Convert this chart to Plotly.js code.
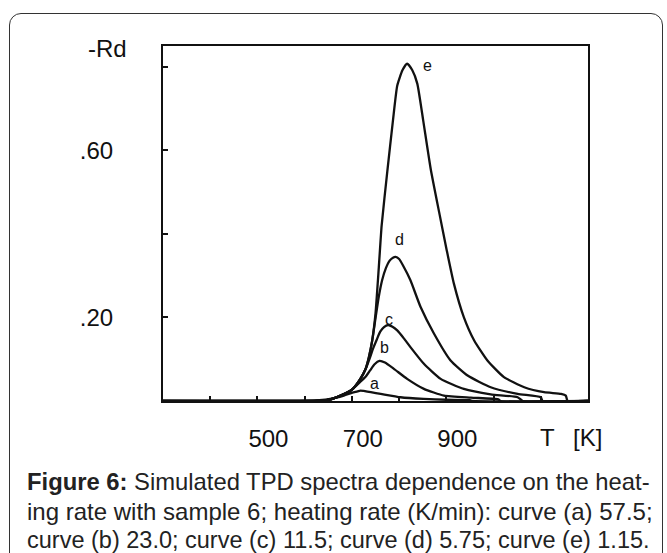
<!DOCTYPE html>
<html>
<head>
<meta charset="utf-8">
<script src="https://cdn.plot.ly/plotly-3.0.1.min.js"></script>
<style>
  html, body { margin: 0; padding: 0; background: #fff; }
  #wrap { position: relative; width: 667px; height: 553px; overflow: hidden; }
  #chart { position: absolute; left: 0; top: 0; width: 667px; height: 553px; }
  #frame { position: absolute; left: 9px; top: 13px; width: 652px; height: 600px;
           border: 1.5px solid #333; border-radius: 12px 12px 0 0; pointer-events: none; z-index: 5; }
</style>
</head>
<body>
<div id="wrap">
  <div id="chart"></div>
  <div id="frame"></div>
</div>
<script>
// ---- data (T in K, -Rd) ----
const curveNames = ['a', 'b', 'c', 'd', 'e'];

const tA = [300, 600, 654, 683, 701, 712, 718, 725, 740, 761, 803, 852, 900, 950, 955, 1200];
const vA = [0, 0, 0.005, 0.013, 0.020, 0.023, 0.025, 0.024, 0.021, 0.017, 0.009, 0.005, 0.003, 0.002, 0, 0];

const tB = [300, 600, 647, 676, 700, 718, 729, 739, 748, 758.5, 770, 789, 817, 852.5, 895, 952, 1010, 1015, 1200];
const vB = [0, 0, 0.002, 0.013, 0.027, 0.046, 0.058, 0.074, 0.088, 0.096, 0.092, 0.077, 0.053, 0.029, 0.013, 0.008, 0.004, 0, 0];

const tC = [300, 600, 647, 676, 700, 718, 729, 737, 745, 753, 760, 768, 776.5, 786, 796, 810, 824, 852.5, 888, 937, 994, 1051, 1062, 1200];
const vC = [0, 0, 0.002, 0.013, 0.027, 0.053, 0.076, 0.100, 0.126, 0.148, 0.166, 0.177, 0.182, 0.178, 0.169, 0.150, 0.129, 0.089, 0.053, 0.029, 0.016, 0.009, 0, 0];

const tD = [300, 600, 647, 676, 700, 718, 729, 736, 743, 750, 757, 764, 772, 780, 787, 792.5, 800, 808, 824, 845.5, 874, 909, 945, 994, 1051, 1100, 1104, 1200];
const vD = [0, 0, 0.002, 0.013, 0.027, 0.053, 0.077, 0.105, 0.144, 0.198, 0.250, 0.289, 0.318, 0.336, 0.343, 0.345, 0.340, 0.325, 0.289, 0.225, 0.161, 0.097, 0.061, 0.033, 0.017, 0.009, 0, 0];

const tE = [300, 600, 647, 676, 700, 718, 729, 736, 743, 750, 757, 763, 775, 787, 796, 807, 817, 828, 838.5, 851, 867, 886, 901, 916, 937, 959, 987, 1022, 1065, 1107, 1143, 1153, 1157, 1200];
const vE = [0, 0, 0.002, 0.013, 0.027, 0.053, 0.077, 0.105, 0.145, 0.209, 0.320, 0.420, 0.550, 0.672, 0.755, 0.792, 0.808, 0.792, 0.760, 0.672, 0.555, 0.445, 0.360, 0.281, 0.201, 0.145, 0.097, 0.057, 0.033, 0.021, 0.017, 0.013, 0, 0];

const xTickVals = [500, 700, 900];
const xTickText = ['500', '700', '900'];
const yTickVals = [0.2, 0.6];
const yTickText = ['.20', '.60'];

const captionLines = [
  '<b>Figure 6:</b> Simulated TPD spectra dependence on the heat-',
  'ing rate with sample 6; heating rate (K/min): curve (a) 57.5;',
  'curve (b) 23.0; curve (c) 11.5; curve (d) 5.75; curve (e) 1.15.'
];

// ---- figure ----
const FONT = 'Liberation Sans, Arial, Helvetica, sans-serif';
const INK = '#111';
const series = [[tA, vA], [tB, vB], [tC, vC], [tD, vD], [tE, vE]];

const traces = series.map((s, i) => ({
  x: s[0], y: s[1], type: 'scatter', mode: 'lines', name: curveNames[i],
  line: { color: INK, width: 2.3, shape: 'spline', smoothing: 0.5 },
  hoverinfo: 'skip'
}));

const labelPos = { a: [748, 0.043], b: [768, 0.127], c: [778, 0.194], d: [801, 0.387], e: [860, 0.804] };

const annotations = curveNames.map(n => ({
  x: labelPos[n][0], y: labelPos[n][1], xref: 'x', yref: 'y', text: n,
  showarrow: false, font: { family: FONT, size: 16, color: INK }, xanchor: 'center', yanchor: 'middle'
}));

annotations.push({ x: -0.13, y: 0.994, xref: 'paper', yref: 'paper', text: '-Rd', showarrow: false,
  font: { family: FONT, size: 24, color: INK }, xanchor: 'center', yanchor: 'middle' });
annotations.push({ x: 0.905, y: -0.104, xref: 'paper', yref: 'paper', text: 'T', showarrow: false,
  font: { family: FONT, size: 24, color: INK }, xanchor: 'center', yanchor: 'middle' });
annotations.push({ x: 0.9993, y: -0.104, xref: 'paper', yref: 'paper', text: '[K]', showarrow: false,
  font: { family: FONT, size: 24, color: INK }, xanchor: 'center', yanchor: 'middle' });

const captionY = [-0.2268, -0.3113, -0.3907];
const captionSize = [23.8, 24, 23.5];
captionLines.forEach((t, i) => annotations.push({
  x: -0.3255, y: captionY[i], xref: 'paper', yref: 'paper', text: t, showarrow: false,
  font: { family: FONT, size: captionSize[i], color: '#222' }, xanchor: 'left', yanchor: 'middle', align: 'left'
}));

const layout = {
  width: 667, height: 553,
  margin: { l: 163, r: 79, t: 46, b: 152 },
  paper_bgcolor: '#fff', plot_bgcolor: '#fff',
  showlegend: false,
  font: { family: FONT, color: INK },
  xaxis: {
    range: [300, 1200], showline: true, mirror: true, linecolor: INK, linewidth: 2,
    ticks: 'inside', ticklen: 5, tickwidth: 2, tickcolor: INK,
    tickmode: 'array', tickvals: xTickVals, ticktext: xTickText,
    ticklabelshift: 11, ticklabelstandoff: 15,
    tickfont: { family: FONT, size: 24, color: INK },
    showgrid: false, zeroline: false, fixedrange: true,
    minor: { ticks: 'inside', ticklen: 5, tickwidth: 2, tickcolor: INK, tickmode: 'linear', tick0: 300, dtick: 100, showgrid: false }
  },
  yaxis: {
    range: [0, 0.85], showline: true, mirror: true, linecolor: INK, linewidth: 2,
    ticks: 'inside', ticklen: 5, tickwidth: 2, tickcolor: INK,
    tickmode: 'array', tickvals: yTickVals, ticktext: yTickText,
    ticklabelstandoff: 43,
    tickfont: { family: FONT, size: 24, color: INK },
    showgrid: false, zeroline: false, fixedrange: true,
    minor: { ticks: 'inside', ticklen: 5, tickwidth: 2, tickcolor: INK, tickmode: 'linear', tick0: 0, dtick: 0.2, showgrid: false }
  },
  annotations: annotations
};

Plotly.newPlot('chart', traces, layout, { staticPlot: true, displayModeBar: false });
</script>
</body>
</html>
